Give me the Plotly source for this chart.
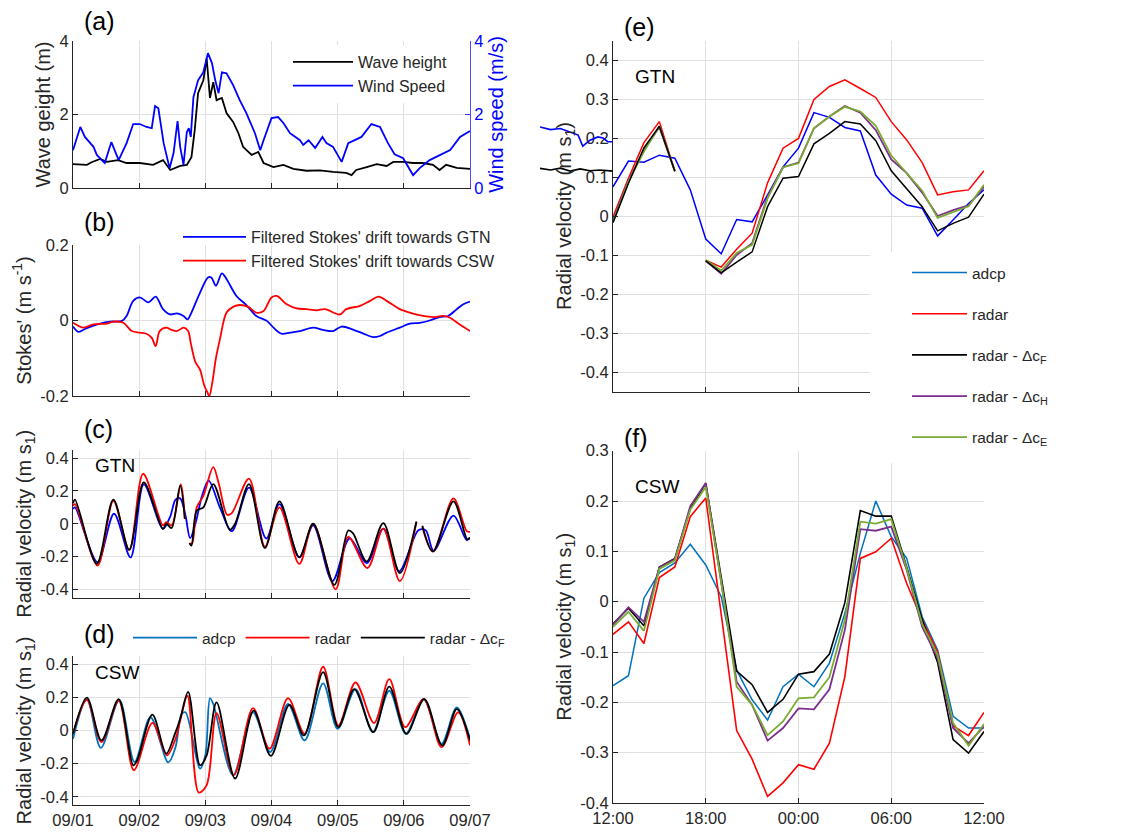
import plotly.graph_objects as go

W, H = 1129, 834
FONT = "Liberation Sans, Arial, Helvetica, sans-serif"
INK = "#262626"
GRID = "#e0e0e0"
BLUE = "#0000FF"
MBLUE = "#0072BD"
RED = "#FF0000"
PURPLE = "#7E2F8E"
GREEN = "#77AC30"


def px(x):
    return x / W


def py(y):
    return 1 - y / H


# ---------------- data ----------------
day_ticks = [0, 1, 2, 3, 4, 5, 6]
day_labels = ["09/01", "09/02", "09/03", "09/04", "09/05", "09/06", "09/07"]
hour_ticks = [0, 6, 12, 18, 24]
hour_labels = ["12:00", "18:00", "00:00", "06:00", "12:00"]

# (a) wave height / wind speed
wind_day = [0.00, 0.11, 0.18, 0.31, 0.36, 0.48, 0.58, 0.69, 0.81, 0.91, 1.01, 1.11, 1.19, 1.24, 1.29,
            1.37, 1.46, 1.52, 1.58, 1.62, 1.67, 1.72, 1.75, 1.78, 1.82, 1.89, 1.97, 2.04, 2.10, 2.15,
            2.20, 2.25, 2.32, 2.42, 2.52, 2.62, 2.75, 2.83, 2.88, 3.00, 3.10, 3.18, 3.28, 3.43, 3.48,
            3.56, 3.66, 3.77, 3.83, 3.93, 4.06, 4.16, 4.36, 4.51, 4.64, 4.76, 4.86, 4.99, 5.14, 5.24,
            5.39, 5.54, 5.70, 5.85, 6.00]
wind_ms = [1.03, 1.66, 1.39, 1.12, 0.90, 0.68, 1.25, 0.76, 1.22, 1.74, 1.74, 1.66, 1.63, 2.23, 2.17,
           1.22, 0.54, 0.95, 1.82, 1.12, 0.63, 1.52, 1.63, 1.39, 2.47, 2.93, 3.15, 3.67, 3.40, 2.93,
           2.58, 3.15, 3.12, 2.80, 2.39, 2.04, 1.49, 1.03, 1.30, 1.90, 1.93, 1.77, 1.49, 1.30, 1.17,
           1.30, 1.09, 1.39, 1.22, 1.12, 0.71, 1.22, 1.39, 1.74, 1.66, 1.22, 0.92, 0.81, 0.35, 0.54,
           0.76, 0.90, 1.03, 1.39, 1.55]
wave_day = [0.00, 0.21, 0.28, 0.41, 0.51, 0.68, 0.81, 1.01, 1.21, 1.36, 1.47, 1.62, 1.72, 1.79, 1.84,
            1.89, 1.97, 2.02, 2.07, 2.12, 2.17, 2.25, 2.32, 2.42, 2.50, 2.57, 2.70, 2.80, 2.88, 3.03,
            3.18, 3.33, 3.53, 3.73, 3.93, 4.13, 4.21, 4.28, 4.44, 4.59, 4.74, 4.84, 4.99, 5.14, 5.29,
            5.44, 5.54, 5.64, 5.80, 6.00]
wave_m = [0.65, 0.63, 0.70, 0.79, 0.71, 0.76, 0.68, 0.68, 0.63, 0.76, 0.49, 0.60, 0.63, 0.84, 1.58,
          2.58, 2.93, 3.53, 2.45, 2.88, 2.39, 2.45, 2.04, 1.80, 1.49, 1.12, 0.90, 0.98, 0.68, 0.57,
          0.63, 0.52, 0.47, 0.48, 0.44, 0.41, 0.35, 0.49, 0.57, 0.65, 0.60, 0.71, 0.71, 0.68, 0.68,
          0.63, 0.49, 0.63, 0.55, 0.52]

# (b) filtered Stokes' drift
gtn_day = [0.00, 0.08, 0.21, 0.41, 0.56, 0.74, 0.81, 0.91, 1.01, 1.14, 1.25, 1.36, 1.47, 1.57, 1.67,
           1.73, 1.79, 1.92, 2.04, 2.09, 2.16, 2.25, 2.32, 2.47, 2.62, 2.77, 2.93, 3.03, 3.15, 3.28,
           3.43, 3.63, 3.78, 3.93, 4.06, 4.23, 4.39, 4.54, 4.64, 4.74, 4.94, 5.09, 5.24, 5.39, 5.54,
           5.67, 5.80, 5.90, 6.00]
gtn_stokes = [-0.016, -0.030, -0.020, -0.008, -0.003, -0.001, 0.012, 0.052, 0.061, 0.048, 0.063, 0.030,
              0.016, 0.019, 0.012, 0.003, 0.021, 0.074, 0.114, 0.114, 0.092, 0.125, 0.110, 0.065, 0.041,
              0.012, -0.001, -0.019, -0.035, -0.032, -0.028, -0.019, -0.025, -0.028, -0.016, -0.024,
              -0.035, -0.044, -0.041, -0.032, -0.019, -0.008, -0.006, 0.000, 0.009, 0.012, 0.030,
              0.043, 0.050]
csw_day = [0.00, 0.16, 0.31, 0.51, 0.61, 0.76, 0.89, 1.01, 1.11, 1.19, 1.25, 1.31, 1.41, 1.49, 1.57,
           1.67, 1.74, 1.78, 1.85, 1.92, 1.98, 2.03, 2.06, 2.10, 2.16, 2.22, 2.32, 2.42, 2.52, 2.65,
           2.77, 2.88, 3.00, 3.08, 3.23, 3.38, 3.53, 3.68, 3.81, 4.03, 4.13, 4.34, 4.49, 4.62, 4.74,
           4.94, 5.14, 5.29, 5.44, 5.59, 5.69, 5.84, 6.00]
csw_stokes = [-0.006, -0.019, -0.010, -0.008, -0.003, -0.006, -0.028, -0.032, -0.035, -0.046, -0.068,
              -0.028, -0.019, -0.025, -0.028, -0.019, -0.028, -0.060, -0.110, -0.130, -0.170, -0.190,
              -0.200, -0.170, -0.100, -0.050, 0.021, 0.036, 0.041, 0.036, 0.021, 0.025, 0.061, 0.065,
              0.043, 0.032, 0.030, 0.027, 0.030, 0.016, 0.030, 0.039, 0.052, 0.063, 0.052, 0.030,
              0.018, 0.012, 0.009, 0.012, 0.008, -0.010, -0.028]

# (c) GTN radial velocity, 6 days
c_adcp_day = [0.00, 0.03, 0.37, 0.62, 0.87, 1.07, 1.36, 1.47, 1.55, 1.62, 1.70, 1.77, 1.85, 1.95, 2.05,
              2.22, 2.40, 2.66, 2.92, 3.12, 3.42, 3.63, 3.92, 4.18, 4.44, 4.69, 4.93, 5.22, 5.33, 5.45,
              5.75, 5.95, 6.00]
c_adcp = [0.09, 0.10, -0.235, 0.061, -0.205, 0.24, -0.03, 0.045, 0.147, 0.155, 0.05, -0.088, 0.0, 0.17,
          0.263, 0.10, -0.045, 0.22, -0.09, 0.12, -0.205, -0.01, -0.35, -0.09, -0.24, -0.03, -0.29,
          -0.04, -0.04, -0.165, 0.05, -0.10, -0.085]
c_radar_day = [0.00, 0.03, 0.37, 0.61, 0.85, 1.06, 1.36, 1.41, 1.49, 1.63, 1.69, 1.72, 1.76, 1.80, 1.87,
               1.97, 2.12, 2.20, 2.33, 2.40, 2.66, 2.90, 3.12, 3.42, 3.63, 3.97, 4.16, 4.45, 4.69, 4.94,
               5.19, 5.23, 5.28, 5.44, 5.75, 5.95, 6.00]
c_radar = [0.11, 0.12, -0.255, 0.14, -0.16, 0.305, -0.01, 0.01, -0.01, 0.24, 0.03, None, -0.12, -0.12,
           0.10, 0.17, 0.345, 0.25, 0.055, 0.065, 0.275, -0.14, 0.10, -0.245, 0.0, -0.40, -0.08, -0.27,
           -0.03, -0.35, 0.01, None, -0.02, -0.17, 0.155, -0.045, -0.05]
c_dcf_day = [0.00, 0.03, 0.36, 0.61, 0.85, 1.07, 1.36, 1.41, 1.49, 1.62, 1.69, 1.72, 1.76, 1.79, 1.87,
             1.97, 2.12, 2.37, 2.45, 2.66, 2.90, 3.12, 3.42, 3.63, 3.95, 4.16, 4.23, 4.44, 4.69, 4.94,
             5.19, 5.23, 5.28, 5.44, 5.75, 5.96, 6.00]
c_dcf = [0.125, 0.147, -0.244, 0.147, -0.159, 0.253, -0.033, 0.0, -0.026, 0.232, 0.03, None, -0.118,
         -0.134, 0.08, 0.10, 0.242, -0.037, 0.0, 0.242, -0.149, 0.136, -0.204, 0.0, -0.373, -0.041,
         -0.057, -0.23, 0.004, -0.301, 0.014, None, -0.012, -0.169, 0.136, -0.095, -0.085]

# (d) CSW radial velocity, 6 days
d_adcp_day = [0.00, 0.21, 0.42, 0.70, 0.93, 1.17, 1.44, 1.55, 1.64, 1.70, 1.92, 2.00, 2.07, 2.12, 2.42,
              2.72, 2.98, 3.25, 3.50, 3.78, 4.00, 4.27, 4.53, 4.78, 5.03, 5.30, 5.57, 5.80, 6.00]
d_adcp = [-0.05, 0.19, -0.105, 0.185, -0.19, 0.08, -0.193, -0.10, 0.10, 0.11, -0.23, -0.15, 0.195, 0.16,
          -0.27, 0.11, -0.13, 0.16, -0.06, 0.285, 0.01, 0.25, -0.01, 0.24, -0.02, 0.19, -0.08, 0.14,
          -0.05]
d_radar_day = [0.00, 0.21, 0.43, 0.69, 0.92, 1.20, 1.42, 1.55, 1.62, 1.73, 1.90, 2.02, 2.17, 2.43, 2.72,
               2.97, 3.25, 3.50, 3.78, 4.01, 4.27, 4.55, 4.78, 5.02, 5.30, 5.57, 5.82, 6.00]
d_radar = [-0.02, 0.185, -0.07, 0.18, -0.24, 0.046, -0.15, -0.05, 0.06, 0.21, -0.375, -0.33, 0.105,
           -0.27, 0.135, -0.11, 0.195, -0.02, 0.385, 0.03, 0.29, 0.045, 0.31, 0.02, 0.19, -0.10, 0.11,
           -0.09]
d_dcf_day = [0.00, 0.21, 0.43, 0.69, 0.91, 0.97, 1.20, 1.41, 1.54, 1.62, 1.74, 1.92, 2.02, 2.17, 2.45,
             2.73, 2.99, 3.27, 3.49, 3.78, 4.01, 4.25, 4.54, 4.78, 5.04, 5.31, 5.58, 5.80, 6.00]
d_dcf = [-0.02, 0.199, -0.06, 0.19, -0.21, -0.18, 0.096, -0.14, -0.02, 0.07, 0.233, -0.21, -0.15, 0.17,
         -0.29, 0.12, -0.153, 0.155, -0.03, 0.353, 0.02, 0.25, -0.01, 0.265, -0.02, 0.19, -0.09, 0.13,
         -0.06]

# (e) GTN, hourly, 24 h
e_hour = list(range(25))
e_adcp = [0.075, 0.141, 0.138, 0.156, 0.148, 0.067, -0.059, -0.097, -0.009, -0.015, 0.054, 0.126, 0.174,
          0.265, 0.253, 0.227, 0.218, 0.105, 0.056, 0.028, 0.020, -0.051, -0.010, 0.032, 0.067]
e_radar = [-0.002, 0.097, 0.188, 0.242, 0.115, None, -0.113, -0.131, -0.085, -0.044, 0.085, 0.174, 0.199,
           0.299, 0.332, 0.349, 0.327, 0.304, 0.242, 0.195, 0.137, 0.054, 0.062, 0.067, 0.116]
e_dcf = [-0.017, 0.084, 0.175, 0.230, 0.115, None, -0.115, -0.146, -0.118, -0.092, 0.024, 0.097, 0.101,
         0.185, 0.212, 0.242, 0.236, 0.193, 0.116, 0.071, 0.024, -0.038, -0.019, -0.003, 0.056]
e_dch = [-0.010, 0.090, 0.169, 0.228, 0.115, None, -0.115, -0.148, -0.100, -0.070, 0.050, 0.125, 0.137,
         0.225, 0.255, 0.282, 0.265, 0.220, 0.145, 0.110, 0.060, 0.000, 0.015, 0.027, 0.075]
e_dce = [-0.015, 0.088, 0.165, 0.230, 0.115, None, -0.113, -0.140, -0.095, -0.074, 0.045, 0.125, 0.135,
         0.225, 0.255, 0.280, 0.268, 0.231, 0.155, 0.110, 0.065, -0.005, 0.010, 0.025, 0.080]

# (f) CSW, hourly, 24 h
f_hour = list(range(25))
f_adcp = [-0.167, -0.147, 0.007, 0.058, 0.077, 0.114, 0.073, 0.010, -0.136, -0.195, -0.235, -0.169, -0.144,
          -0.169, -0.122, -0.023, 0.096, 0.200, 0.129, 0.086, -0.030, -0.096, -0.228, -0.251, -0.251]
f_radar = [-0.065, -0.040, -0.083, 0.048, 0.069, 0.169, 0.206, -0.030, -0.256, -0.313, -0.387, -0.360,
           -0.324, -0.333, -0.281, -0.149, 0.086, 0.099, 0.126, 0.036, -0.036, -0.101, -0.247, -0.266,
           -0.220]
f_dcf = [-0.044, -0.013, -0.048, 0.069, 0.086, 0.185, 0.235, 0.048, -0.138, -0.165, -0.220, -0.194, -0.144,
         -0.139, -0.104, -0.002, 0.181, 0.170, 0.170, 0.069, -0.036, -0.121, -0.274, -0.301, -0.258]
f_dch = [-0.046, -0.011, -0.040, 0.068, 0.084, 0.190, 0.236, 0.040, -0.159, -0.205, -0.276, -0.251, -0.212,
         -0.214, -0.174, -0.056, 0.144, 0.141, 0.149, 0.063, -0.050, -0.112, -0.251, -0.281, -0.248]
f_dce = [-0.050, -0.020, -0.058, 0.065, 0.082, 0.183, 0.228, 0.040, -0.169, -0.205, -0.265, -0.238, -0.192,
         -0.190, -0.150, -0.036, 0.159, 0.155, 0.164, 0.066, -0.044, -0.106, -0.241, -0.286, -0.243]

# stray continuation of panel (a) series visible left of panel (e)
stray_wind_day = [7.05, 7.21, 7.36, 7.51, 7.63, 7.70, 7.81, 7.93, 8.01, 8.08, 8.16]
stray_wind = [1.66, 1.59, 1.62, 1.53, 1.44, 1.14, 1.30, 1.39, 1.36, 1.26, 1.26]
stray_wave_day = [7.05, 7.21, 7.36, 7.51, 7.66, 7.81, 7.96, 8.16]
stray_wave = [0.535, 0.49, 0.54, 0.46, 0.52, 0.47, 0.49, 0.46]

# ---------------- figure ----------------
fig = go.Figure()


def line(x, y, color, width, xa, ya, name=None, legend=None, shape="linear"):
    fig.add_trace(go.Scatter(
        x=x, y=y, mode="lines", name=name,
        line=dict(color=color, width=width, shape=shape, smoothing=0.9),
        xaxis=xa, yaxis=ya, showlegend=legend is not None,
        legend=legend if legend else "legend", hoverinfo="skip"))


# stray lines (drawn first, underneath)
line(stray_wind_day, stray_wind, BLUE, 1.6, "x7", "y8")
line(stray_wave_day, stray_wave, "black", 1.6, "x7", "y8")

# (a)
line(wave_day, wave_m, "black", 1.8, "x", "y", "Wave height", "legend")
line(wind_day, wind_ms, BLUE, 1.8, "x", "y2", "Wind Speed", "legend")
# (b)
line(gtn_day, gtn_stokes, BLUE, 1.8, "x2", "y3", "Filtered Stokes' drift towards GTN", "legend2", "spline")
line(csw_day, csw_stokes, RED, 1.8, "x2", "y3", "Filtered Stokes' drift towards CSW", "legend2", "spline")
# (c)
line(c_adcp_day, c_adcp, BLUE, 1.8, "x3", "y4", shape="spline")
line(c_radar_day, c_radar, RED, 1.8, "x3", "y4", shape="spline")
line(c_dcf_day, c_dcf, "black", 1.8, "x3", "y4", shape="spline")
# (d)
line(d_adcp_day, d_adcp, MBLUE, 1.8, "x4", "y5", "adcp", "legend3", "spline")
line(d_radar_day, d_radar, RED, 1.8, "x4", "y5", "radar", "legend3", "spline")
line(d_dcf_day, d_dcf, "black", 1.8, "x4", "y5", "radar - \u0394c<sub>F</sub>", "legend3", "spline")
# (e)
line(e_hour, e_adcp, BLUE, 1.5, "x5", "y6")
line(e_hour, e_radar, RED, 1.5, "x5", "y6")
line(e_hour, e_dch, PURPLE, 1.8, "x5", "y6")
line(e_hour, e_dce, GREEN, 1.8, "x5", "y6")
line(e_hour, e_dcf, "black", 1.5, "x5", "y6")
# (f)
names_f = ["adcp", "radar", "radar - \u0394c<sub>F</sub>", "radar - \u0394c<sub>H</sub>",
           "radar - \u0394c<sub>E</sub>"]
for i, (yy, col, wd) in enumerate([(f_adcp, MBLUE, 1.5), (f_radar, RED, 1.6), (f_dcf, "black", 1.6),
                                    (f_dch, PURPLE, 1.8), (f_dce, GREEN, 1.8)]):
    fig.add_trace(go.Scatter(x=f_hour, y=yy, mode="lines", name=names_f[i],
                             line=dict(color=col, width=wd), xaxis="x6", yaxis="y7",
                             legend="legend4", legendgroup="g%d" % i, hoverinfo="skip"))

tickfont = dict(size=16.5, color=INK, family=FONT)
titlefont = dict(size=20, color=INK, family=FONT)


def xax(dom, rng, tv, tt, labels):
    return dict(domain=dom, range=rng, tickmode="array", tickvals=tv, ticktext=tt,
                showticklabels=labels, ticks="inside", ticklen=5, tickcolor=INK,
                showline=True, linecolor=INK, linewidth=1, showgrid=True, gridcolor=GRID,
                zeroline=False, tickfont=tickfont, fixedrange=True, automargin=False)


def yax(dom, rng, tv, title, anchor, standoff=3):
    return dict(domain=dom, range=rng, tickmode="array", tickvals=tv,
                ticktext=[("%g" % v) for v in tv], anchor=anchor,
                ticks="inside", ticklen=5, tickcolor=INK, showline=True, linecolor=INK,
                linewidth=1, showgrid=True, gridcolor=GRID, zeroline=False,
                tickfont=tickfont, title=dict(text=title, font=titlefont, standoff=standoff),
                fixedrange=True, automargin=False)


LX = [px(73), px(470)]
RX = [px(613), px(984)]
vel = "Radial velocity (m s<sub>1</sub>)"

layout = dict(
    template="none",
    width=W, height=H, margin=dict(l=0, r=0, t=0, b=0, autoexpand=False),
    paper_bgcolor="white", plot_bgcolor="white",
    font=dict(family=FONT, color=INK),
    showlegend=True,
    xaxis=xax(LX, [0, 6], day_ticks, day_labels, False) | dict(anchor="y"),
    yaxis=yax([py(188), py(41)], [0, 4], [0, 2, 4], "Wave geight (m)", "x"),
    yaxis2=dict(overlaying="y", side="right", anchor="x", range=[0, 4], tickmode="array",
                tickvals=[0, 2, 4], ticktext=["0", "2", "4"], ticks="inside", ticklen=5,
                tickcolor="#3333ff", showline=True, linecolor="#4d4dff", linewidth=1,
                showgrid=False, zeroline=False, tickfont=dict(size=16.5, color=BLUE, family=FONT),
                title=dict(text="Wind speed (m/s)", font=dict(size=20, color=BLUE, family=FONT),
                           standoff=6), fixedrange=True, automargin=False),
    xaxis2=xax(LX, [0, 6], day_ticks, day_labels, False) | dict(anchor="y3"),
    yaxis3=yax([py(396), py(245)], [-0.2, 0.2], [-0.2, 0, 0.2], "Stokes' (m s<sup>-1</sup>)", "x2"),
    xaxis3=xax(LX, [0, 6], day_ticks, day_labels, False) | dict(anchor="y4"),
    yaxis4=yax([py(597.5), py(450)], [-0.45, 0.45], [-0.4, -0.2, 0, 0.2, 0.4], vel, "x3"),
    xaxis4=xax(LX, [0, 6], day_ticks, day_labels, True) | dict(anchor="y5"),
    yaxis5=yax([py(805), py(656)], [-0.45, 0.45], [-0.4, -0.2, 0, 0.2, 0.4], vel, "x4"),
    xaxis5=xax(RX, [0, 24], hour_ticks, hour_labels, False) | dict(anchor="y6"),
    yaxis6=yax([py(391.5), py(40.5)], [-0.45, 0.45],
               [-0.4, -0.3, -0.2, -0.1, 0, 0.1, 0.2, 0.3, 0.4], vel, "x5"),
    xaxis6=xax(RX, [0, 24], hour_ticks, hour_labels, True) | dict(anchor="y7"),
    yaxis7=yax([py(803), py(450.7)], [-0.4, 0.3],
               [-0.4, -0.3, -0.2, -0.1, 0, 0.1, 0.2, 0.3], vel, "x6"),
    xaxis7=dict(domain=[px(540), px(613)], range=[7.05, 8.16], visible=False, anchor="y8",
                fixedrange=True, automargin=False),
    yaxis8=dict(domain=[py(188), py(41)], range=[0, 4], visible=False, anchor="x7",
                fixedrange=True, automargin=False),
    legend=dict(x=px(288), y=py(45), xanchor="left", yanchor="top", bgcolor="white",
                borderwidth=0, font=dict(size=16, color=INK, family=FONT), itemwidth=60,
                tracegroupgap=0),
    legend2=dict(x=px(178), y=py(220), xanchor="left", yanchor="top", bgcolor="rgba(255,255,255,0)",
                 borderwidth=0, font=dict(size=16, color=INK, family=FONT), itemwidth=63),
    legend3=dict(x=px(128), y=py(621), xanchor="left", yanchor="top", orientation="h",
                 bgcolor="rgba(255,255,255,0)", borderwidth=0,
                 font=dict(size=15.5, color=INK, family=FONT), itemwidth=64),
    legend4=dict(x=px(907), y=py(256), xanchor="left", yanchor="top", bgcolor="white",
                 borderwidth=0, font=dict(size=15.5, color=INK, family=FONT), itemwidth=55,
                 tracegroupgap=18),
    shapes=[dict(type="rect", xref="paper", yref="paper", x0=px(870), x1=1.0, y0=py(463),
                 y1=py(252), fillcolor="white", line=dict(width=0), layer="above")],
)

ann = []
for txt, x, y in [("(a)", 82, 21), ("(b)", 82, 222), ("(c)", 82, 429), ("(d)", 82, 634),
                  ("(e)", 622, 27), ("(f)", 622, 438)]:
    ann.append(dict(text=txt, x=px(x), y=py(y), xref="paper", yref="paper", xanchor="left",
                    yanchor="middle", showarrow=False, font=dict(size=25, color="black", family=FONT)))
for txt, x, y in [("GTN", 93, 465), ("CSW", 93, 672), ("GTN", 633, 77), ("CSW", 633, 486)]:
    ann.append(dict(text=txt, x=px(x), y=py(y), xref="paper", yref="paper", xanchor="left",
                    yanchor="middle", showarrow=False, font=dict(size=19, color="black", family=FONT)))
layout["annotations"] = ann

fig.update_layout(**layout)
fig.write_html("out.html")
